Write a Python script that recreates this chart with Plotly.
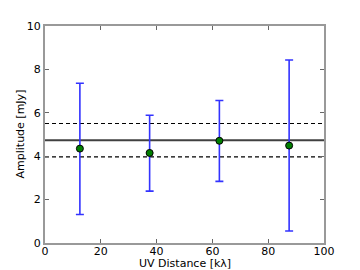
import plotly.graph_objects as go

uv_dist = [12.5, 37.5, 62.5, 87.5]
amplitude = [4.35, 4.15, 4.71, 4.49]
err_plus = [3.01, 1.74, 1.86, 3.94]
err_minus = [3.04, 1.76, 1.87, 3.94]
mean_amp = 4.74
band_hi = 5.51
band_lo = 3.97
x_range = [0, 100]
y_range = [0, 10]
x_title = "UV Distance [kλ]"
y_title = "Amplitude [mJy]"

fig = go.Figure()
fig.add_trace(go.Scatter(x=x_range, y=[band_hi, band_hi], mode="lines",
                         line=dict(color="black", width=1.1, dash="4px,3px"), showlegend=False))
fig.add_trace(go.Scatter(x=x_range, y=[band_lo, band_lo], mode="lines",
                         line=dict(color="black", width=1.1, dash="4px,3px"), showlegend=False))
fig.add_trace(go.Scatter(x=x_range, y=[mean_amp, mean_amp], mode="lines",
                         line=dict(color="#404040", width=2), showlegend=False))
fig.add_trace(go.Scatter(x=uv_dist, y=amplitude, mode="markers",
                         marker=dict(color="#007f00", size=7, line=dict(color="black", width=1)),
                         error_y=dict(type="data", symmetric=False, array=err_plus, arrayminus=err_minus,
                                      color="#3333ff", thickness=1.6, width=4),
                         showlegend=False))

font = dict(family="DejaVu Sans", size=11, color="black")
axis_common = dict(showline=True, linecolor="#999999", linewidth=2, mirror="ticks",
                   ticks="inside", ticklen=4, tickcolor="#666666", showgrid=False, zeroline=False,
                   automargin=False, tickfont=font)
fig.update_xaxes(range=x_range, tickvals=[0, 20, 40, 60, 80, 100], ticklabelstandoff=-3, **axis_common)
fig.update_yaxes(range=y_range, tickvals=[0, 2, 4, 6, 8, 10], **axis_common)
fig.add_annotation(text=x_title, xref="paper", yref="paper", x=0.5, y=0,
                   xanchor="center", yanchor="middle", yshift=-20, showarrow=False, font=font)
fig.add_annotation(text=y_title, xref="paper", yref="paper", x=0, y=0.5, textangle=-90,
                   xanchor="center", yanchor="middle", xshift=-25, showarrow=False, font=font)
fig.update_layout(width=360, height=270, margin=dict(l=45, r=36, t=26, b=27),
                  plot_bgcolor="white", paper_bgcolor="white")
fig.write_html("out.html", config={"displayModeBar": False},
               post_script="document.body.style.margin='0';document.body.style.overflow='hidden';")
